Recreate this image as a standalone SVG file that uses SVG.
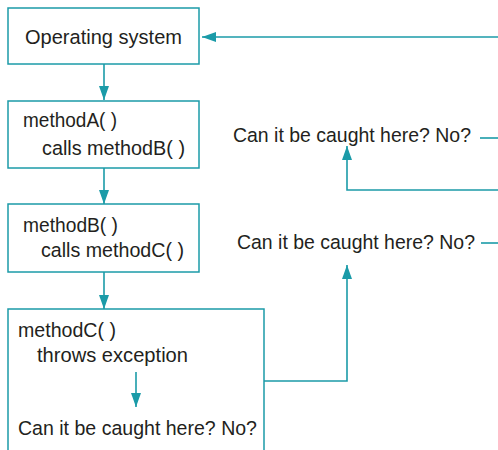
<svg xmlns="http://www.w3.org/2000/svg" width="498" height="450" viewBox="0 0 498 450">
<style>
.box{fill:#fff;stroke:#1b9ba8;stroke-width:1.5}
.ln{fill:none;stroke:#1b9ba8;stroke-width:1.6}
.t{font-family:"Liberation Sans",Arial,sans-serif;font-size:20.5px;fill:#231f20}
</style>
<defs>
<marker id="ah" markerUnits="userSpaceOnUse" markerWidth="14" markerHeight="10" refX="14" refY="5" orient="auto">
<path d="M0,0 L14,5 L0,10 z" fill="#1b9ba8"/>
</marker>
</defs>
<rect width="498" height="450" fill="#fff"/>
<g id="os">
<rect class="box" x="8" y="8" width="191" height="56"/>
<text class="t" x="25" y="44" textLength="157" lengthAdjust="spacingAndGlyphs">Operating system</text>
</g>
<g id="methodA">
<rect class="box" x="8" y="101" width="191" height="67"/>
<text class="t" x="23" y="127" textLength="94" lengthAdjust="spacingAndGlyphs">methodA( )</text>
<text class="t" x="42" y="155" textLength="143" lengthAdjust="spacingAndGlyphs">calls methodB( )</text>
</g>
<g id="methodB">
<rect class="box" x="8" y="204" width="191" height="68"/>
<text class="t" x="23" y="232" textLength="95" lengthAdjust="spacingAndGlyphs">methodB( )</text>
<text class="t" x="41" y="257" textLength="143" lengthAdjust="spacingAndGlyphs">calls methodC( )</text>
</g>
<g id="methodC">
<path class="box" d="M8,452 V309 H264 V452"/>
<text class="t" x="18" y="337" textLength="98" lengthAdjust="spacingAndGlyphs">methodC( )</text>
<text class="t" x="37" y="362" textLength="151" lengthAdjust="spacingAndGlyphs">throws exception</text>
<text class="t" x="18" y="435" textLength="239" lengthAdjust="spacingAndGlyphs">Can it be caught here? No?</text>
</g>
<g id="catchA">
<text class="t" x="233" y="142" textLength="238" lengthAdjust="spacingAndGlyphs">Can it be caught here? No?</text>
</g>
<g id="catchB">
<text class="t" x="237" y="249" textLength="238" lengthAdjust="spacingAndGlyphs">Can it be caught here? No?</text>
</g>
<g id="connectors">
<path class="ln" d="M104,64 V100" marker-end="url(#ah)"/>
<path class="ln" d="M104,168 V204" marker-end="url(#ah)"/>
<path class="ln" d="M104,272 V309" marker-end="url(#ah)"/>
<path class="ln" d="M136,372 V407" marker-end="url(#ah)"/>
<path class="ln" d="M264,381 H347 V265" marker-end="url(#ah)"/>
<path class="ln" d="M498,190 H347 V146" marker-end="url(#ah)"/>
<path class="ln" d="M498,37 H202" marker-end="url(#ah)"/>
<path class="ln" d="M480,138 H498"/>
<path class="ln" d="M481,243 H498"/>
</g>
</svg>
